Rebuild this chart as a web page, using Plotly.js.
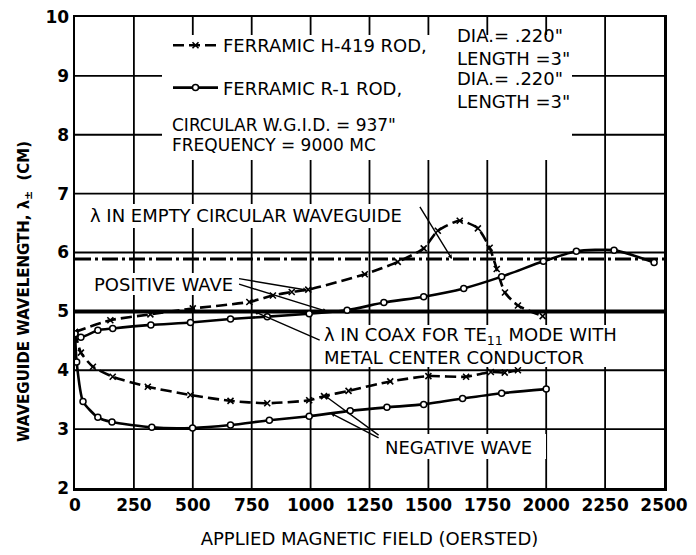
<!DOCTYPE html>
<html>
<head>
<meta charset="utf-8">
<script src="https://cdn.plot.ly/plotly-3.0.1.min.js"></script>
<style>html,body{margin:0;padding:0;background:#fff;}#chart{width:696px;height:555px;}</style>
</head>
<body>
<div id="chart"></div>
<script>
// ---- data ----
const xTickVals = [0, 250, 500, 750, 1000, 1250, 1500, 1750, 2000, 2250, 2500];
const yTickVals = [2, 3, 4, 5, 6, 7, 8, 9, 10];

const emptyGuideX = [0, 2500];
const emptyGuideY = [5.89, 5.89];
const coaxX = [0, 2500];
const coaxY = [5.0, 5.0];

const h419PosX = [0, 150, 320, 500, 740, 840, 920, 990, 1230, 1370, 1480, 1540, 1633, 1710, 1760, 1790, 1825, 1880, 1985];
const h419PosY = [4.65, 4.85, 4.95, 5.05, 5.16, 5.27, 5.33, 5.37, 5.63, 5.84, 6.07, 6.37, 6.54, 6.41, 6.08, 5.72, 5.32, 5.10, 4.92];
const h419NegX = [0, 25, 76, 160, 309, 490, 660, 816, 994, 1057, 1161, 1338, 1500, 1660, 1765, 1824, 1880];
const h419NegY = [4.65, 4.30, 4.06, 3.89, 3.72, 3.58, 3.48, 3.44, 3.49, 3.56, 3.65, 3.81, 3.90, 3.89, 3.97, 3.96, 4.00];

const r1PosX = [0, 25, 97, 160, 322, 490, 660, 816, 994, 1155, 1311, 1480, 1650, 1811, 1988, 2128, 2288, 2458];
const r1PosY = [4.62, 4.56, 4.68, 4.71, 4.77, 4.81, 4.87, 4.91, 4.96, 5.02, 5.15, 5.25, 5.39, 5.59, 5.85, 6.02, 6.04, 5.83];
const r1NegX = [0, 7, 34, 97, 157, 326, 499, 660, 825, 994, 1168, 1324, 1480, 1645, 1811, 2000];
const r1NegY = [4.62, 4.14, 3.47, 3.20, 3.12, 3.03, 3.02, 3.07, 3.15, 3.22, 3.31, 3.37, 3.42, 3.52, 3.61, 3.68];

const legendH419 = 'FERRAMIC H-419 ROD,';
const legendR1 = 'FERRAMIC R-1 ROD,';
const rodSpec = 'DIA.= .220"<br>LENGTH =3"';

// ---- layout helpers (pixel -> paper) ----
const L = 75, R = 664, T = 17, B = 488;
const px = v => (v - L) / (R - L);
const py = v => (B - v) / (B - T);
const FONT = 'DejaVu Sans';

const xMin = xTickVals[0], xMax = xTickVals[xTickVals.length - 1];
const yMin = yTickVals[0], yMax = yTickVals[yTickVals.length - 1];

// printed grid, built from the tick values
const gridX = [], gridY = [];
xTickVals.slice(1, -1).forEach(v => { gridX.push(v, v, null); gridY.push(yMin, yMax, null); });
yTickVals.slice(1, -1).forEach(v => { gridX.push(xMin, xMax, null); gridY.push(v, v, null); });

const h419Line = {color: 'black', width: 2.6, dash: '11px,5px', shape: 'spline', smoothing: 0.6};
const h419Marker = {symbol: 'x-thin', size: 6, line: {color: 'black', width: 1.6}, color: 'black'};
const r1Line = {color: 'black', width: 2.6, shape: 'spline', smoothing: 0.6};
const r1Marker = {symbol: 'circle', size: 6, color: 'white', line: {color: 'black', width: 1.5}};

const traces = [
  {x: gridX, y: gridY, mode: 'lines', showlegend: false, hoverinfo: 'skip', connectgaps: false,
   line: {color: 'black', width: 1.8}},
  {x: emptyGuideX, y: emptyGuideY, mode: 'lines', showlegend: false,
   line: {color: 'black', width: 3, dash: '16px,4px,3px,4px'}},
  {x: coaxX, y: coaxY, mode: 'lines', showlegend: false,
   line: {color: 'black', width: 4}},
  {x: h419PosX, y: h419PosY, mode: 'lines+markers', name: legendH419, legendgroup: 'h', showlegend: true,
   line: h419Line, marker: h419Marker},
  {x: h419NegX, y: h419NegY, mode: 'lines+markers', name: legendH419, legendgroup: 'h', showlegend: false,
   line: h419Line, marker: h419Marker},
  {x: r1PosX, y: r1PosY, mode: 'lines+markers', name: legendR1, legendgroup: 'r', showlegend: true,
   line: r1Line, marker: r1Marker},
  {x: r1NegX, y: r1NegY, mode: 'lines+markers', name: legendR1, legendgroup: 'r', showlegend: false,
   line: r1Line, marker: r1Marker}
];

const xOf = p => (p - L) / (R - L) * 2500;
const yOf = p => 2 + (B - p) / (B - T) * 8;
// white areas behind the lettering, where the printed grid is interrupted
function whiteBox(x0, y0, x1, y1) {
  return {type: 'rect', xref: 'x', yref: 'y', x0: xOf(x0), x1: xOf(x1), y0: yOf(y1), y1: yOf(y0),
          fillcolor: 'white', line: {width: 0}, layer: 'above'};
}
function label(text, x, y, extra) {
  return Object.assign({text: text, xref: 'paper', yref: 'paper', x: px(x), y: py(y),
    xanchor: 'left', yanchor: 'middle', align: 'left', showarrow: false,
    font: {family: FONT, size: 18, color: 'black'}}, extra || {});
}
function leader(x, y, ax, ay) {
  return {text: '', x: x, y: y, ax: ax, ay: ay, xref: 'x', yref: 'y', axref: 'x', ayref: 'y',
    showarrow: true, arrowhead: 2, arrowsize: 0.6, arrowwidth: 1.4, arrowcolor: 'black'};
}

const layout = {
  width: 696, height: 555,
  margin: {l: L, r: 696 - R, t: T, b: 555 - B},
  paper_bgcolor: 'white', plot_bgcolor: 'white',
  font: {family: FONT, color: 'black'},
  showlegend: true,
  legend: {x: px(168), y: py(27), xanchor: 'left', yanchor: 'top', bgcolor: 'rgba(0,0,0,0)',
           traceorder: 'grouped', tracegroupgap: 16, itemwidth: 45,
           font: {family: FONT, size: 18, color: 'black'}},
  xaxis: {range: [xMin, xMax], tickmode: 'array', tickvals: xTickVals, ticktext: xTickVals.map(String),
          showgrid: false, zeroline: false,
          showline: true, linecolor: 'black', linewidth: 2.5, mirror: true, ticks: '',
          tickfont: {family: FONT, size: 17, weight: 'bold', color: 'black'},
          title: {text: 'APPLIED MAGNETIC FIELD (OERSTED)', standoff: 19,
                  font: {family: FONT, size: 18, color: 'black'}}},
  yaxis: {range: [yMin, yMax], tickmode: 'array', tickvals: yTickVals, ticktext: yTickVals.map(String),
          showgrid: false, zeroline: false,
          showline: true, linecolor: 'black', linewidth: 2.5, mirror: true, ticks: '',
          tickfont: {family: FONT, size: 17, weight: 'bold', color: 'black'}},
  shapes: [
    whiteBox(162, 35, 572, 160),
    whiteBox(82, 204, 418, 228),
    whiteBox(88, 273, 242, 295),
    whiteBox(316, 325, 650, 367),
    whiteBox(376, 434, 546, 459)
  ],
  annotations: [
    label(rodSpec, 455, 47),
    label(rodSpec, 455, 90),
    label('CIRCULAR W.G.I.D. = 937"', 170, 125, {font: {family: FONT, size: 17, color: 'black'}}),
    label('FREQUENCY = 9000 MC', 170, 145, {font: {family: FONT, size: 17, color: 'black'}}),
    label('λ IN EMPTY CIRCULAR WAVEGUIDE', 88, 215),
    label('POSITIVE WAVE', 92, 284),
    label('λ IN COAX FOR TE<sub>11</sub> MODE WITH<br>METAL CENTER CONDUCTOR', 322, 346),
    label('NEGATIVE WAVE', 383, 447),
    {text: 'WAVEGUIDE WAVELENGTH, λ<sub>±</sub>  (CM)', xref: 'paper', yref: 'paper',
     x: px(24), y: py(292), xanchor: 'center', yanchor: 'middle', textangle: -90, showarrow: false,
     font: {family: FONT, size: 15, weight: 'bold', color: 'black'}},
    leader(1600, 5.89, 1460, 6.8),
    leader(986, 5.36, 690, 5.56),
    leader(1070, 5.0, 690, 5.47),
    leader(760, 5.0, 1045, 4.5),
    leader(1060, 3.57, 1295, 2.88),
    leader(1085, 3.27, 1295, 2.84)
  ]
};

Plotly.newPlot('chart', traces, layout, {staticPlot: true, displayModeBar: false});
</script>
</body>
</html>
